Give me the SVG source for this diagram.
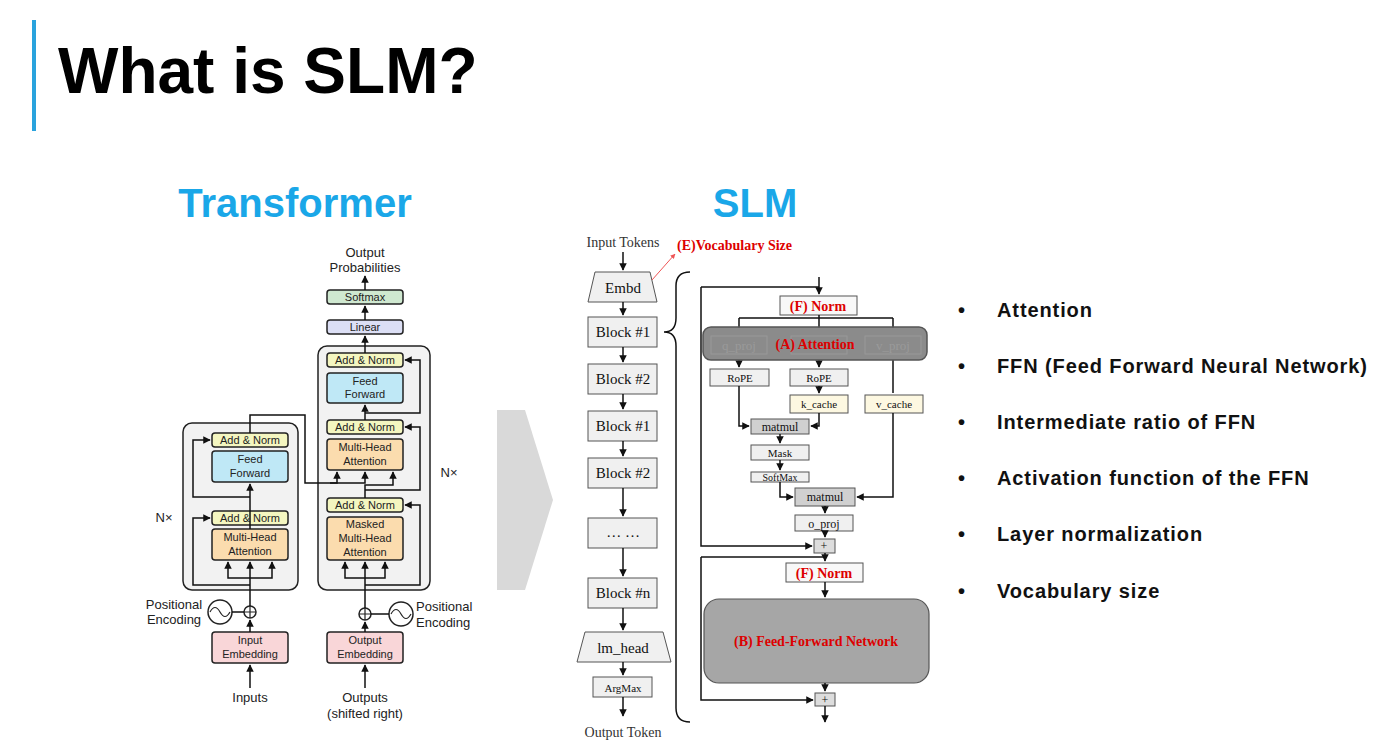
<svg xmlns="http://www.w3.org/2000/svg" width="1400" height="748" viewBox="0 0 1400 748">
<defs>
<marker id="a" viewBox="0 0 10 10" refX="9" refY="5" markerWidth="5" markerHeight="5" orient="auto"><path d="M0,0L10,5L0,10z" fill="#111"/></marker>
<marker id="r" viewBox="0 0 10 10" refX="9" refY="5" markerWidth="5" markerHeight="5" orient="auto"><path d="M0,0L10,5L0,10z" fill="#e55"/></marker>
<style>
.t{font-family:"Liberation Sans",Arial,sans-serif;fill:#222;text-anchor:middle}
.s{font-family:"Liberation Serif","Times New Roman",serif;fill:#111;text-anchor:middle}
.red{fill:#d00;font-weight:bold}
.b{stroke:#222;stroke-width:1.5;rx:3}
.sb{stroke:#555;stroke-width:1;fill:#f0f0f0}
.c{fill:none;stroke:#111;stroke-width:1.5}
.bl{font-family:"Liberation Sans",Arial,sans-serif;font-weight:bold;font-size:20px;fill:#111;letter-spacing:0.9px}
</style>
</defs>
<rect width="1400" height="748" fill="#fff"/>
<rect x="32" y="20" width="4" height="111" fill="#2aa3dd"/>
<text x="58" y="93" font-family="Liberation Sans,Arial,sans-serif" font-weight="bold" font-size="64" fill="#000">What is SLM?</text>
<text x="295" y="217" class="t" font-weight="bold" font-size="40" style="fill:#1aa7e8">Transformer</text>
<text x="755" y="217" class="t" font-weight="bold" font-size="40" style="fill:#1aa7e8">SLM</text>
<polygon points="497,410 525,410 553,500 525,590 497,590" fill="#d9d9d9"/>

<!-- Transformer -->
<g id="transformer">
<rect x="183" y="423" width="115" height="167" rx="9" fill="#f2f2f2" stroke="#222" stroke-width="1.5"/>
<rect x="318" y="346" width="112" height="244" rx="9" fill="#f2f2f2" stroke="#222" stroke-width="1.5"/>
<g font-size="11">
<rect x="327" y="290" width="76" height="14" class="b" fill="#cfe8d0"/><text x="365" y="301" class="t">Softmax</text>
<rect x="327" y="320" width="76" height="14" class="b" fill="#dcdff5"/><text x="365" y="331" class="t">Linear</text>
<rect x="327" y="353" width="76" height="14" class="b" fill="#f4f6c0"/><text x="365" y="364" class="t">Add &amp; Norm</text>
<rect x="327" y="373" width="76" height="30" class="b" fill="#bfe8f6"/><text x="365" y="385" class="t">Feed</text><text x="365" y="398" class="t">Forward</text>
<rect x="327" y="420" width="76" height="14" class="b" fill="#f4f6c0"/><text x="365" y="431" class="t">Add &amp; Norm</text>
<rect x="327" y="439" width="76" height="31" class="b" fill="#fbdcae"/><text x="365" y="451" class="t">Multi-Head</text><text x="365" y="465" class="t">Attention</text>
<rect x="327" y="498" width="76" height="14" class="b" fill="#f4f6c0"/><text x="365" y="509" class="t">Add &amp; Norm</text>
<rect x="327" y="517" width="76" height="43" class="b" fill="#fbdcae"/><text x="365" y="528" class="t">Masked</text><text x="365" y="542" class="t">Multi-Head</text><text x="365" y="556" class="t">Attention</text>
<rect x="212" y="433" width="76" height="14" class="b" fill="#f4f6c0"/><text x="250" y="444" class="t">Add &amp; Norm</text>
<rect x="212" y="451" width="76" height="31" class="b" fill="#bfe8f6"/><text x="250" y="463" class="t">Feed</text><text x="250" y="477" class="t">Forward</text>
<rect x="212" y="511" width="76" height="14" class="b" fill="#f4f6c0"/><text x="250" y="522" class="t">Add &amp; Norm</text>
<rect x="212" y="529" width="76" height="31" class="b" fill="#fbdcae"/><text x="250" y="541" class="t">Multi-Head</text><text x="250" y="555" class="t">Attention</text>
<rect x="212" y="632" width="76" height="31" class="b" fill="#f9d6d8"/><text x="250" y="644" class="t">Input</text><text x="250" y="658" class="t">Embedding</text>
<rect x="327" y="632" width="76" height="31" class="b" fill="#f9d6d8"/><text x="365" y="644" class="t">Output</text><text x="365" y="658" class="t">Embedding</text>
</g>
<g font-size="13">
<text x="365" y="257" class="t">Output</text><text x="365" y="272" class="t">Probabilities</text>
<text x="164" y="522" class="t">N×</text><text x="449" y="477" class="t">N×</text>
<text x="174" y="609" class="t">Positional</text><text x="174" y="624" class="t">Encoding</text>
<text x="416" y="611" class="t" style="text-anchor:start">Positional</text><text x="416" y="627" class="t" style="text-anchor:start">Encoding</text>
<text x="250" y="702" class="t">Inputs</text>
<text x="365" y="702" class="t">Outputs</text><text x="365" y="718" class="t">(shifted right)</text>
</g>
<circle cx="220" cy="612" r="12" fill="#fff" stroke="#222" stroke-width="1.5"/>
<path d="M210,612 q5,-9 10,0 t10,0" fill="none" stroke="#222" stroke-width="1.2"/>
<circle cx="250" cy="612" r="6" fill="#fff" stroke="#222" stroke-width="1.5"/><path d="M244,612h12M250,606v12" stroke="#222" stroke-width="1.2"/>
<circle cx="401" cy="614" r="12" fill="#fff" stroke="#222" stroke-width="1.5"/>
<path d="M391,614 q5,-9 10,0 t10,0" fill="none" stroke="#222" stroke-width="1.2"/>
<circle cx="365" cy="614" r="6" fill="#fff" stroke="#222" stroke-width="1.5"/><path d="M359,614h12M365,608v12" stroke="#222" stroke-width="1.2"/>
</g>
<g id="transformer-connectors" class="c">
<path d="M232,612h12M371,614h18"/>
<path d="M250,688V665" marker-end="url(#a)"/><path d="M365,688V665" marker-end="url(#a)"/>
<path d="M250,632V620" marker-end="url(#a)"/><path d="M365,632V622" marker-end="url(#a)"/>
<path d="M250,606V562" marker-end="url(#a)"/><path d="M250,578H228V562" marker-end="url(#a)"/><path d="M250,578H272V562" marker-end="url(#a)"/>
<path d="M250,585H193V518H210" marker-end="url(#a)"/>
<path d="M250,529V484" marker-end="url(#a)"/><path d="M250,497H193V440H210" marker-end="url(#a)"/>
<path d="M250,433V415H305V483H337V472" marker-end="url(#a)"/><path d="M330,483H365V472" marker-end="url(#a)"/>
<path d="M365,608V562" marker-end="url(#a)"/><path d="M365,578H345V562" marker-end="url(#a)"/><path d="M365,578H385V562" marker-end="url(#a)"/>
<path d="M365,585H420V505H405" marker-end="url(#a)"/>
<path d="M365,498V485H393V472" marker-end="url(#a)"/><path d="M365,490H420V427H405" marker-end="url(#a)"/>
<path d="M365,420V405" marker-end="url(#a)"/><path d="M365,413H420V360H405" marker-end="url(#a)"/>
<path d="M365,353V336" marker-end="url(#a)"/><path d="M365,320V306" marker-end="url(#a)"/><path d="M365,290V276" marker-end="url(#a)"/>
</g>

<!-- SLM -->
<g id="slm-stack" font-size="15">
<text x="623" y="247" class="s" font-size="14" style="fill:#333">Input Tokens</text>
<text x="677" y="250" class="s red" font-size="14" style="text-anchor:start">(E)Vocabulary Size</text>
<polygon points="595,272 650,272 657,302 588,302" class="sb"/><text x="623" y="293" class="s">Embd</text>
<rect x="588" y="317" width="69" height="30" class="sb"/><text x="623" y="337" class="s">Block #1</text>
<rect x="588" y="364" width="69" height="30" class="sb"/><text x="623" y="384" class="s">Block #2</text>
<rect x="588" y="411" width="69" height="30" class="sb"/><text x="623" y="431" class="s">Block #1</text>
<rect x="588" y="458" width="69" height="30" class="sb"/><text x="623" y="478" class="s">Block #2</text>
<rect x="588" y="518" width="69" height="30" class="sb"/><text x="623" y="537" class="s">… …</text>
<rect x="588" y="578" width="69" height="30" class="sb"/><text x="623" y="598" class="s">Block #n</text>
<polygon points="585,632 663,632 671,662 577,662" class="sb"/><text x="623" y="653" class="s">lm_head</text>
<rect x="593" y="677" width="59" height="20" class="sb"/><text x="623" y="692" class="s" font-size="11">ArgMax</text>
<text x="623" y="737" class="s" font-size="14" style="fill:#333">Output Token</text>
</g>
<g id="slm-block" font-size="11">
<rect x="780" y="296" width="77" height="19" class="sb" style="fill:#f8f8f8"/><text x="818" y="311" class="s red" font-size="14">(F) Norm</text>
<rect x="710" y="369" width="59" height="17" class="sb"/><text x="740" y="382" class="s">RoPE</text>
<rect x="790" y="369" width="58" height="17" class="sb"/><text x="819" y="382" class="s">RoPE</text>
<rect x="790" y="395" width="58" height="18" class="sb" style="fill:#fdf8e1"/><text x="819" y="408" class="s">k_cache</text>
<rect x="865" y="395" width="58" height="18" class="sb" style="fill:#fdf8e1"/><text x="894" y="408" class="s">v_cache</text>
<rect x="751" y="419" width="58" height="15" class="sb" style="fill:#d0d0d0"/><text x="780" y="431" class="s" font-size="12">matmul</text>
<rect x="751" y="445" width="58" height="15" class="sb"/><text x="780" y="457" class="s">Mask</text>
<rect x="751" y="472" width="58" height="10" class="sb"/><text x="780" y="481" class="s" font-size="10">SoftMax</text>
<rect x="795" y="488" width="60" height="18" class="sb" style="fill:#d0d0d0"/><text x="825" y="501" class="s" font-size="12">matmul</text>
<rect x="795" y="515" width="58" height="16" class="sb"/><text x="824" y="528" class="s" font-size="12">o_proj</text>
<rect x="814" y="539" width="21" height="14" class="sb" style="fill:#ddd"/><text x="824" y="550" class="s" font-size="12">+</text>
<rect x="786" y="563" width="77" height="19" class="sb" style="fill:#f8f8f8"/><text x="824" y="578" class="s red" font-size="14">(F) Norm</text>
<rect x="704" y="599" width="225" height="84" rx="15" fill="#a6a6a6" stroke="#555" stroke-width="1.2"/>
<text x="816" y="646" class="s red" font-size="14">(B) Feed-Forward Network</text>
<rect x="815" y="693" width="20" height="13" class="sb" style="fill:#ddd"/><text x="825" y="704" class="s" font-size="12">+</text>
</g>
<g id="slm-connectors" class="c" stroke-width="1.2">
<path d="M623,252V270" marker-end="url(#a)"/><path d="M623,302V315" marker-end="url(#a)"/><path d="M623,347V362" marker-end="url(#a)"/><path d="M623,394V409" marker-end="url(#a)"/><path d="M623,441V456" marker-end="url(#a)"/><path d="M623,488V516" marker-end="url(#a)"/><path d="M623,548V576" marker-end="url(#a)"/><path d="M623,608V630" marker-end="url(#a)"/><path d="M623,662V675" marker-end="url(#a)"/><path d="M623,697V716" marker-end="url(#a)"/>
<path d="M652,280L675,254" stroke="#e55" stroke-width="1" marker-end="url(#r)"/>
<path d="M690,272Q676,272 676,286V318Q676,332 664,332Q676,332 676,346V708Q676,722 690,722"/>
<path d="M819,277V294" marker-end="url(#a)"/><path d="M701,287H819"/>
<path d="M701,287V546H812" marker-end="url(#a)"/>
<path d="M819,315V328M739,318H893M739,318V328M893,318V328"/>
<path d="M739,360V367" marker-end="url(#a)"/><path d="M819,360V367" marker-end="url(#a)"/><path d="M819,386V393" marker-end="url(#a)"/>
<path d="M893,360V393"/>
<path d="M739,386V426H749" marker-end="url(#a)"/><path d="M819,413V426H811" marker-end="url(#a)"/>
<path d="M780,434V443" marker-end="url(#a)"/><path d="M780,460V470" marker-end="url(#a)"/>
<path d="M780,482V497H793" marker-end="url(#a)"/><path d="M893,413V497H857" marker-end="url(#a)"/>
<path d="M825,506V513" marker-end="url(#a)"/><path d="M825,531V537" marker-end="url(#a)"/>
<path d="M825,553V561" marker-end="url(#a)"/><path d="M701,557H825"/><path d="M701,557V700H813" marker-end="url(#a)"/>
<path d="M825,582V597" marker-end="url(#a)"/><path d="M825,683V691" marker-end="url(#a)"/><path d="M825,706V722" marker-end="url(#a)"/>
</g>
<g id="attention-overlay">
<rect x="703" y="327" width="224" height="33" rx="8" fill="#777" fill-opacity="0.85" stroke="#555" stroke-width="1.5"/>
<rect x="711" y="336" width="56" height="18" fill="none" stroke="#999"/><text x="739" y="350" class="s" font-size="13" style="fill:#9a9a9a">q_proj</text>
<rect x="791" y="336" width="56" height="18" fill="none" stroke="#999"/>
<rect x="865" y="336" width="56" height="18" fill="none" stroke="#999"/><text x="893" y="350" class="s" font-size="13" style="fill:#9a9a9a">v_proj</text>
<text x="815" y="349" class="s red" font-size="14">(A) Attention</text>
</g>

<g id="bullets" class="bl">
<text x="958" y="317">•</text><text x="997" y="317">Attention</text>
<text x="958" y="373">•</text><text x="997" y="373">FFN (Feed Forward Neural Network)</text>
<text x="958" y="429">•</text><text x="997" y="429">Intermediate ratio of FFN</text>
<text x="958" y="485">•</text><text x="997" y="485">Activation function of the FFN</text>
<text x="958" y="541">•</text><text x="997" y="541">Layer normalization</text>
<text x="958" y="598">•</text><text x="997" y="598">Vocabulary size</text>
</g>
</svg>
